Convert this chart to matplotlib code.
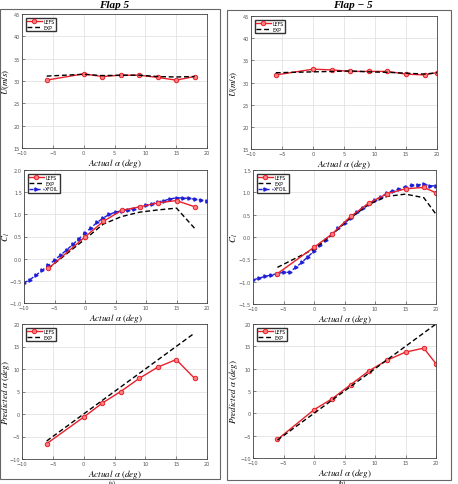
import matplotlib.pyplot as plt
from matplotlib.patches import Rectangle

plt.rcParams['mathtext.fontset'] = 'stix'

# ---- data ----
# Flap 5
aL = [-6, 0, 3, 6, 9, 12, 15, 18]
U_lefs_L = [30.2, 31.6, 31.0, 31.3, 31.3, 30.8, 30.2, 31.0]
U_exp_L = [31.1, 31.5, 31.2, 31.3, 31.3, 31.0, 30.9, 31.0]
cl_lefs_L = [-0.22, 0.49, 0.84, 1.09, 1.17, 1.26, 1.31, 1.17]
cl_exp_L = [-0.22, 0.44, 0.78, 0.95, 1.05, 1.10, 1.14, 0.68]
pred_lefs_L = [-6.6, -0.7, 2.4, 5.0, 7.9, 10.4, 12.1, 7.9]
pred_exp_L = [-6, 0, 3, 6, 9, 12, 15, 18]

# Flap -5
aR = [-6, 0, 3, 6, 9, 12, 15, 18, 20]
U_lefs_R = [31.7, 33.0, 32.85, 32.5, 32.5, 32.5, 31.9, 31.7, 32.25]
U_exp_R = [32.2, 32.4, 32.5, 32.6, 32.4, 32.3, 32.1, 31.9, 32.2]
cl_lefs_R = [-0.82, -0.23, 0.07, 0.46, 0.76, 0.97, 1.08, 1.11, 0.99]
cl_exp_R = [-0.68, -0.27, 0.06, 0.43, 0.73, 0.91, 0.96, 0.88, 0.51]
pred_lefs_R = [-5.85, 0.8, 3.3, 6.4, 9.5, 11.9, 13.7, 14.6, 11.1]
pred_exp_R = [-6, 0, 3, 6, 9, 12, 15, 18, 20]

# XFOIL, alpha -10..20 every degree
a_xf = [-10, -9, -8, -7, -6, -5, -4, -3, -2, -1, 0, 1, 2, 3, 4, 5, 6, 7, 8, 9, 10,
        11, 12, 13, 14, 15, 16, 17, 18, 19, 20]
cl_xf_L = [-0.55, -0.47, -0.37, -0.26, -0.15, -0.03, 0.08, 0.20, 0.32, 0.45, 0.58,
           0.70, 0.82, 0.92, 1.00, 1.05, 1.08, 1.10, 1.13, 1.17, 1.21, 1.24, 1.28,
           1.31, 1.35, 1.37, 1.37, 1.36, 1.34, 1.32, 1.29]
cl_xf_R = [-0.96, -0.92, -0.88, -0.85, -0.82, -0.79, -0.79, -0.68, -0.57, -0.44, -0.32,
           -0.19, -0.06, 0.06, 0.20, 0.32, 0.43, 0.55, 0.66, 0.75, 0.83, 0.90, 0.99,
           1.04, 1.08, 1.13, 1.16, 1.17, 1.18, 1.15, 1.14]

W, H = 458, 485
fig = plt.figure(figsize=(W / 100, H / 100), dpi=100)


def px(l, t, r, b):
    return [l / W, 1 - b / H, (r - l) / W, (b - t) / H]


def style(ax, ylim, yticks, ylabel, lab_x, box):
    ax.set_xlim(-10, 20)
    ax.set_xticks([-10, -5, 0, 5, 10, 15, 20])
    ax.set_ylim(*ylim)
    ax.set_yticks(yticks)
    ax.grid(True, color='#dddddd', lw=0.5)
    ax.tick_params(direction='in', length=2, width=0.5, labelsize=3.6,
                   colors='#555555', pad=1.5)
    for s in ax.spines.values():
        s.set_color('#444444')
        s.set_linewidth(0.6)
    ax.set_xlabel(r'$Actual\ \alpha\ (deg)$', fontsize=6.5, labelpad=0.5)
    ax.set_ylabel(ylabel, fontsize=6.5)
    l, t, r, b = box
    # label coordinate is the right edge of the rotated label
    ax.yaxis.set_label_coords((lab_x - l) / (r - l), 0.5)


def leg(ax, handles=None, labels=None):
    kw = dict(loc='upper left', fontsize=3.3, handlelength=3.2, borderpad=0.3,
              labelspacing=0.15, handletextpad=0.3, fancybox=False,
              edgecolor='#333333', framealpha=1, borderaxespad=0.8)
    if handles is None:
        ax.legend(**kw)
    else:
        ax.legend(handles, labels, **kw)


lefs_kw = dict(color='#e8202a', lw=1.0, marker='o', ms=3.2, mfc='#ff8080',
               mec='#e8202a', mew=0.7, label='LEFS')
exp_kw = dict(color='black', lw=1.0, ls=(0, (3.5, 2)), label='EXP')
xf_kw = dict(color='#1f1fd6', lw=1.0, ls=(0, (3, 2)), marker='>', ms=2.3,
             mfc='#1f1fd6', mec='#1f1fd6', label='XFOIL')

cols = [
    (aL, U_lefs_L, U_exp_L, cl_lefs_L, cl_exp_L, cl_xf_L, pred_lefs_L, pred_exp_L,
     [(22, 15, 207, 149), (24, 171, 207, 304), (22, 325, 207, 460)], (-1, 2),
     [-1, -0.5, 0, 0.5, 1, 1.5, 2], 12),
    (aR, U_lefs_R, U_exp_R, cl_lefs_R, cl_exp_R, cl_xf_R, pred_lefs_R, pred_exp_R,
     [(251, 17, 437, 150), (253, 171, 436, 305), (253, 325, 436, 459)], (-1.5, 1.5),
     [-1.5, -1, -0.5, 0, 0.5, 1, 1.5], 240),
]

for a, ul, ue, cll, cle, clx, pl, pe, boxes, clim, clt, lx in cols:
    ax = fig.add_axes(px(*boxes[0]))
    ax.plot(a, ul, **lefs_kw)
    ax.plot(a, ue, **exp_kw)
    style(ax, (15, 45), [15, 20, 25, 30, 35, 40, 45], r'$U(m/s)$', lx, boxes[0])
    leg(ax)

    ax = fig.add_axes(px(*boxes[1]))
    ax.plot(a_xf, clx, **xf_kw)
    ax.plot(a, cle, **exp_kw)
    ax.plot(a, cll, **lefs_kw)
    h, lb = ax.get_legend_handles_labels()
    style(ax, clim, clt, r'$C_l$', lx, boxes[1])
    leg(ax, [h[2], h[1], h[0]], [lb[2], lb[1], lb[0]])

    ax = fig.add_axes(px(*boxes[2]))
    ax.plot(a, pl, **lefs_kw)
    ax.plot(a, pe, **exp_kw)
    style(ax, (-10, 20), [-10, -5, 0, 5, 10, 15, 20],
          r'$Predicted\ \alpha\ (deg)$', lx, boxes[2])
    leg(ax)

# panel frames
for l, t, r, b in [(0, 10, 220, 480), (227, 11, 451, 481)]:
    fig.add_artist(Rectangle((l / W, 1 - b / H), (r - l) / W, (b - t) / H,
                             transform=fig.transFigure, fill=False,
                             edgecolor='#666666', lw=0.8))

fig.text(114 / W, 1 - 5 / H, 'Flap 5', ha='center', va='center', fontsize=8,
         family='Liberation Serif', style='italic', weight='bold')
fig.text(353 / W, 1 - 5 / H, 'Flap \u2212 5', ha='center', va='center', fontsize=8,
         family='Liberation Serif', style='italic', weight='bold')
fig.text(112 / W, 1 - 480.5 / H, '(a)', ha='center', va='top', fontsize=4.5,
         family='Liberation Serif')
fig.text(342 / W, 1 - 480.5 / H, '(b)', ha='center', va='top', fontsize=4.5,
         family='Liberation Serif')

fig.savefig('out.png', dpi=100)
